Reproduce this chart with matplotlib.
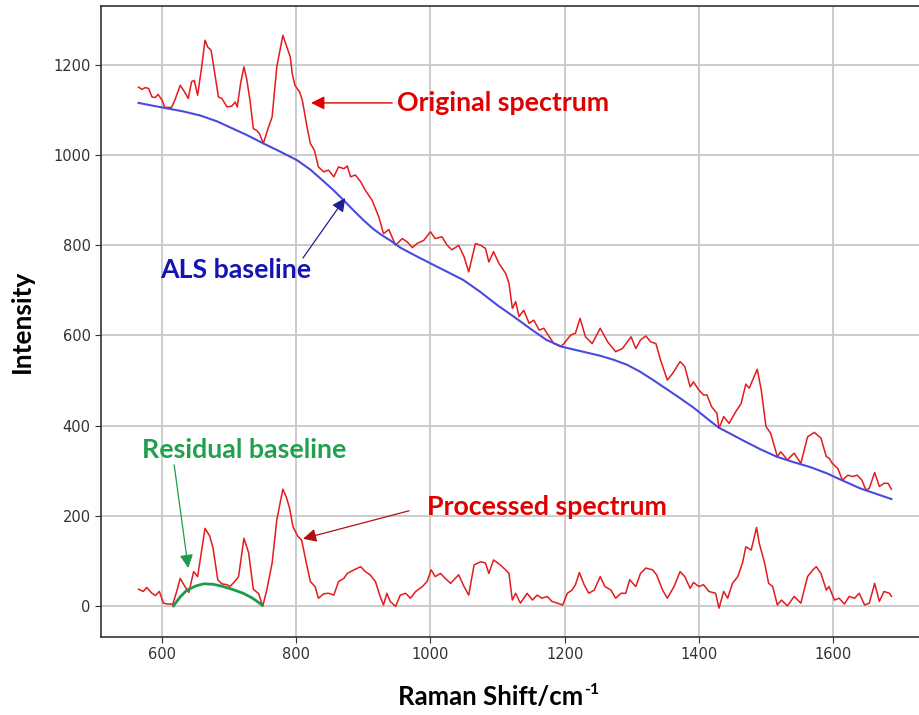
import matplotlib
matplotlib.use("Agg")
import matplotlib.pyplot as plt

# ---- data ----
orig_x = [565, 570, 575, 580, 585, 590, 594, 600, 604, 614, 619, 627, 632, 639, 644, 648, 653, 659, 664, 668,
          673, 677, 684, 689, 697, 704, 709, 712, 717, 722, 726, 731, 736, 741, 745, 751, 757, 764, 771, 780,
          786, 791, 794, 798, 805, 809, 816, 821, 827, 833, 841, 848, 856, 863, 871, 876, 881, 888, 896, 903,
          913, 923, 930, 938, 948, 958, 965, 973, 980, 990, 1000, 1007, 1017, 1025, 1032, 1042, 1050, 1057, 1067, 1075,
          1082, 1087, 1094, 1102, 1112, 1117, 1122, 1127, 1132, 1139, 1147, 1154, 1162, 1169, 1177, 1184, 1194, 1199, 1209, 1216,
          1223, 1231, 1241, 1253, 1264, 1276, 1286, 1299, 1306, 1313, 1321, 1328, 1336, 1343, 1353, 1361, 1372, 1379, 1387, 1392,
          1400, 1407, 1412, 1419, 1427, 1430, 1437, 1445, 1455, 1463, 1470, 1475, 1487, 1493, 1500, 1507, 1517, 1522, 1532, 1542,
          1552, 1562, 1572, 1582, 1590, 1594, 1599, 1607, 1614, 1622, 1629, 1636, 1643, 1649, 1654, 1662, 1669, 1676, 1682, 1687]
orig_y = [1151, 1146, 1150, 1148, 1129, 1128, 1135, 1122, 1106, 1106, 1122, 1155, 1144, 1126, 1163, 1166, 1133, 1196, 1255, 1240,
          1233, 1196, 1129, 1126, 1107, 1109, 1118, 1107, 1159, 1196, 1170, 1122, 1059, 1055, 1048, 1026, 1055, 1085, 1196, 1266,
          1240, 1218, 1181, 1155, 1140, 1122, 1063, 1026, 1011, 974, 963, 967, 952, 974, 970, 976, 952, 956, 941, 922,
          900, 863, 826, 835, 800, 815, 808, 795, 804, 811, 830, 815, 819, 800, 790, 800, 775, 741, 804, 800,
          793, 763, 786, 760, 738, 716, 660, 675, 642, 656, 627, 634, 612, 616, 597, 582, 575, 582, 601, 605,
          638, 597, 582, 616, 586, 564, 571, 597, 571, 590, 599, 586, 582, 545, 501, 516, 542, 531, 486, 497,
          479, 468, 468, 442, 427, 394, 420, 405, 431, 449, 492, 483, 525, 479, 398, 383, 331, 342, 324, 339,
          316, 375, 385, 372, 331, 328, 316, 305, 279, 290, 287, 290, 279, 257, 261, 296, 265, 272, 272, 259]

base_x = [565, 582, 607, 632, 657, 682, 701, 726, 751, 776, 801, 821, 840, 855, 870, 885, 900, 915, 927,
          940, 955, 975, 1000, 1024, 1049, 1074, 1099, 1124, 1148, 1173, 1196, 1213, 1233, 1253, 1273, 1293, 1312,
          1332, 1347, 1367, 1392, 1412, 1429, 1447, 1466, 1491, 1516, 1541, 1566, 1591, 1604, 1640, 1687]
base_y = [1116, 1111, 1104, 1097, 1088, 1075, 1062, 1045, 1026, 1008, 989, 968, 943, 923, 901, 878, 856, 836, 823,
          811, 795, 779, 760, 742, 723, 697, 668, 642, 616, 590, 575, 569, 562, 555, 546, 535, 520,
          501, 486, 466, 440, 416, 396, 382, 367, 348, 331, 319, 308, 294, 285, 261, 237]

proc_x = [565, 572, 577, 585, 590, 596, 602, 609, 616, 621, 627, 634, 640, 647, 653, 664, 671, 676, 683, 689,
          697, 701, 707, 714, 722, 729, 736, 744, 750, 756, 764, 771, 780, 785, 790, 795, 802, 808, 815, 821,
          828, 833, 841, 848, 856, 863, 871, 876, 886, 896, 903, 910, 918, 925, 930, 935, 940, 948, 955, 963,
          970, 978, 988, 995, 1001, 1007, 1015, 1022, 1030, 1042, 1050, 1057, 1065, 1075, 1082, 1087, 1094, 1104, 1112, 1117,
          1122, 1127, 1134, 1144, 1152, 1159, 1166, 1174, 1181, 1189, 1197, 1204, 1211, 1216, 1222, 1229, 1236, 1244, 1253, 1260,
          1269, 1276, 1284, 1291, 1297, 1306, 1313, 1321, 1331, 1337, 1346, 1353, 1363, 1372, 1379, 1387, 1392, 1400, 1407, 1415,
          1425, 1430, 1437, 1443, 1450, 1458, 1465, 1470, 1478, 1486, 1490, 1498, 1504, 1510, 1517, 1523, 1532, 1542, 1552, 1562,
          1570, 1575, 1582, 1590, 1594, 1602, 1609, 1617, 1624, 1632, 1639, 1647, 1654, 1662, 1669, 1676, 1684, 1687]
proc_y = [37, 32, 41, 28, 23, 32, 6, 4, 4, 28, 61, 43, 30, 76, 65, 172, 155, 128, 58, 49,
          47, 43, 52, 65, 150, 118, 37, 27, -1, 35, 95, 191, 259, 242, 217, 176, 155, 146, 95, 54,
          43, 17, 27, 28, 24, 54, 61, 72, 80, 87, 76, 69, 54, 21, 2, 28, 10, -1, 24, 28,
          17, 32, 43, 54, 80, 65, 72, 61, 50, 69, 43, 24, 91, 98, 95, 72, 102, 91, 80, 72,
          13, 28, 6, 28, 13, 24, 17, 21, 10, 6, 2, 28, 35, 47, 74, 47, 28, 35, 65, 43,
          35, 17, 28, 28, 58, 43, 72, 84, 80, 69, 35, 17, 43, 76, 65, 39, 52, 43, 47, 32,
          28, -5, 32, 17, 50, 65, 95, 131, 124, 174, 139, 95, 50, 43, 2, 13, 0, 21, 6, 65,
          80, 87, 72, 35, 43, 13, 17, 4, 21, 17, 28, 2, 6, 50, 10, 32, 28, 21]

resid_x = [617, 627, 637, 650, 662, 676, 691, 706, 721, 735, 749]
resid_y = [0, 20, 35, 44, 49, 48, 43, 36, 28, 17, 2]

x_ticks = [600, 800, 1000, 1200, 1400, 1600]
y_ticks = [0, 200, 400, 600, 800, 1000, 1200]

RED = "#e41a1c"
TXT_RED = "#e00000"
BLUE = "#4a4ae0"
TXT_BLUE = "#1414b4"
GREEN = "#1f9a4a"
TXT_GREEN = "#22a050"

fig = plt.figure(figsize=(9.2, 7.15), dpi=100)
ax = fig.add_axes([0.1098, 0.1091, 0.8978, 0.8825])

ax.plot(orig_x, orig_y, color=RED, lw=1.1)
ax.plot(base_x, base_y, color=BLUE, lw=1.5)
ax.plot(proc_x, proc_y, color=RED, lw=1.1)
ax.plot(resid_x, resid_y, color=GREEN, lw=2.0)

ax.set_xlim(509, 1740)
ax.set_ylim(-69, 1331)
ax.set_xticks(x_ticks)
ax.set_yticks(y_ticks)
ax.grid(True, color="#c8c8c8", lw=1.3)
ax.set_axisbelow(True)
ax.tick_params(labelsize=10.5, colors="#333333", length=4)
for s in ax.spines.values():
    s.set_color("#333333")
    s.set_linewidth(1.2)
ax.spines["right"].set_visible(False)

tfont = dict(family="Lato", fontweight="bold", fontsize=19.3)

def arrow(tail, tip, color, lw=0.9):
    ax.annotate("", xy=tip, xytext=tail,
                arrowprops=dict(arrowstyle="-|>", color=color, lw=lw, mutation_scale=20,
                                shrinkA=0, shrinkB=0))

ax.text(950, 1116, "Original spectrum", color=TXT_RED, ha="left", va="center", **tfont)
arrow((943, 1116), (822, 1116), TXT_RED, 1.0)

ax.text(710, 745, "ALS baseline", color=TXT_BLUE, ha="center", va="center", **tfont)
arrow((810, 772), (873, 905), "#202090")

ax.text(722, 346, "Residual baseline", color=TXT_GREEN, ha="center", va="center", **tfont)
arrow((618, 313), (639, 84), GREEN)

ax.text(995, 220, "Processed spectrum", color=TXT_RED, ha="left", va="center", **tfont)
arrow((968, 211), (810, 149), "#b01010")

ax.set_ylabel("Intensity", family="Lato", fontweight="bold", fontsize=19, labelpad=14)

# x label: main part plus a small superscript
xl = fig.text(398 / 920, 1 - 697 / 715, "Raman Shift/cm", family="Lato", fontweight="bold",
              fontsize=18.5, ha="left", va="center")
fig.canvas.draw()
bb = xl.get_window_extent()
fig.text((bb.x1 + 1) / 920, (bb.y1 - 5) / 715, "-1", family="Lato", fontweight="bold",
         fontsize=11.5, ha="left", va="center")

fig.savefig("out.png", dpi=100)
